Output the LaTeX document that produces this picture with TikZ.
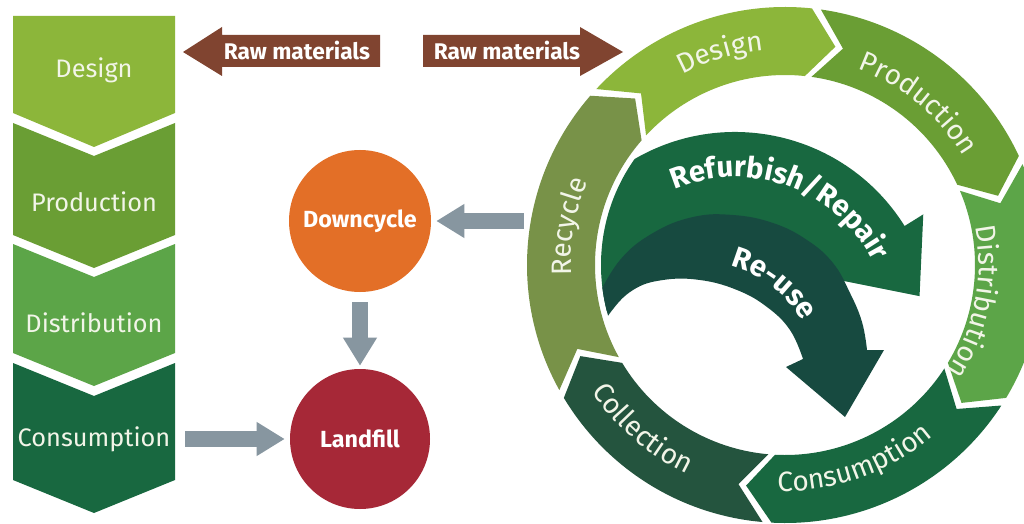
\documentclass[tikz,border=0pt]{standalone}
\usepackage{fontspec}
\setmainfont{Fira Sans}
\usetikzlibrary{arrows.meta,decorations.text}

\definecolor{cDesign}{RGB}{140,182,58}
\definecolor{cProd}{RGB}{106,158,52}
\definecolor{cDist}{RGB}{92,165,72}
\definecolor{cCons}{RGB}{24,104,64}
\definecolor{cColl}{RGB}{36,84,62}
\definecolor{cRecy}{RGB}{120,146,72}
\definecolor{cRefurb}{RGB}{24,104,64}
\definecolor{cReuse}{RGB}{23,74,64}
\definecolor{cRaw}{RGB}{128,68,48}
\definecolor{cGray}{RGB}{135,150,160}
\definecolor{cOrange}{RGB}{227,111,39}
\definecolor{cRed}{RGB}{166,40,55}
\definecolor{cText}{RGB}{242,245,232}

\newcommand\ringfont{\fontsize{21}{23}\selectfont}
\newcommand\arcbold{\bfseries\fontsize{22}{24}\selectfont}
\def\rRo{258}\def\rRi{190}\def\rRm{224}\def\rdl{7}\def\rgp{2}
\newcommand\ringseg[3]{%
  \pgfmathsetmacro\rsA{#1+\rdl-\rgp}%
  \pgfmathsetmacro\rsB{#2+\rdl}%
  \pgfmathsetmacro\rsN{#1-\rgp}%
  \fill[#3] (\rsA:\rRo) arc[start angle=\rsA, end angle=\rsB, radius=\rRo]
    -- (#2:\rRm) -- (\rsB:\rRi) arc[start angle=\rsB, end angle=\rsA, radius=\rRi]
    -- (\rsN:\rRm) -- cycle;}

\begin{document}
\begin{tikzpicture}[x=0.75pt,y=0.75pt,
  lefttext/.style={text=cText, font=\fontsize{19}{21}\selectfont, minimum width=121.5pt, inner sep=0pt},
  rawtext/.style={text=white, font=\bfseries\fontsize{17}{19}\selectfont, inner sep=0pt},
  circ/.style={circle, inner sep=0pt, text=white, font=\bfseries\fontsize{17.5}{19}\selectfont},
  garrow/.style={draw=cGray, line width=12pt, -{Triangle[length=21pt,width=24pt]}},
  ringlab/.style={decorate, decoration={text along path, text align=center, text={|\color{cText}\ringfont|#1}}},
  arclab/.style={decorate, decoration={text along path, text align=center, text={|\color{white}\arcbold|#1}}}
]
\fill[white] (0,0) rectangle (1024,-524);
\useasboundingbox (0,0) rectangle (1024,-524);

% ---------- left column ----------
\fill[cDesign] (13,-16) -- (175,-16) -- (175,-113) -- (94,-147) -- (13,-113) -- cycle;
\fill[cProd] (13,-123) -- (94,-156) -- (175,-123) -- (175,-235) -- (94,-268) -- (13,-235) -- cycle;
\fill[cDist] (13,-244) -- (94,-277) -- (175,-244) -- (175,-353) -- (94,-386) -- (13,-353) -- cycle;
\fill[cCons] (13,-363) -- (94,-396) -- (175,-363) -- (175,-480) -- (94,-513) -- (13,-480) -- cycle;
\node[lefttext] (lDesign) at (94,-70) {Design};
\node[lefttext] (lProd) at (94,-202) {Production};
\node[lefttext] (lDist) at (94,-323) {Distribution};
\node[lefttext] (lCons) at (94,-439) {Consumption};

% ---------- raw materials ----------
\fill[cRaw] (183,-52) -- (222,-27) -- (222,-35) -- (380,-35) -- (380,-67) -- (222,-67) -- (222,-76) -- cycle;
\node[rawtext] (rawL) at (297,-51) {Raw materials};
\fill[cRaw] (423,-35) -- (580,-35) -- (580,-27) -- (623,-52) -- (580,-76) -- (580,-67) -- (423,-67) -- cycle;
\node[rawtext] (rawR) at (507,-51) {Raw materials};

% ---------- circles ----------
\node[circ, fill=cOrange, minimum size=106.5pt] (down) at (360,-221) {Downcycle};
\node[circ, fill=cRed, minimum size=105pt] (land) at (360,-439) {Landfill};

% ---------- ring ----------
\begin{scope}[shift={(785,-265)}]
  \ringseg{132}{77}{cDesign}
  \ringseg{77}{18}{cProd}
  \ringseg{18}{-38}{cDist}
  \ringseg{-38}{-100}{cCons}
  \ringseg{-100}{-156}{cColl}
  \ringseg{204}{132}{cRecy}
  \path[ringlab=Design] (147:216) arc[start angle=147, end angle=67, radius=216];
  \path[ringlab=Production] (96:209) arc[start angle=96, end angle=5, radius=209];
  \path[ringlab=Distribution] (35:194) arc[start angle=35, end angle=-57, radius=194];
  \path[ringlab=Consumption] (-120:226) arc[start angle=-120, end angle=-21, radius=226];
  \path[ringlab=Collection] (184:231) arc[start angle=184, end angle=274, radius=231];
  \path[ringlab=Recycle] (215:214) arc[start angle=215, end angle=125, radius=214];
\end{scope}

% ---------- inner arrows ----------
\begin{scope}
  \clip (785,-265) circle[radius=184];
  \begin{scope}[shift={(735,-332)}]
    \fill[cRefurb] (-135,14) -- (150:110) arc[start angle=150, end angle=32, radius=110]
      -- (32:104) -- (11:188) -- (32:222) -- (32:200)
      arc[start angle=32, end angle=190, radius=200] -- cycle;
  \end{scope}
  \fill[cReuse] plot[smooth, tension=0.7] coordinates {(596,-300) (620,-260) (653,-233) (693,-217) (733,-215) (773,-223) (807,-240) (833,-263) (850,-293) (862,-322) (867,-350)}
    -- (884,-350) -- (845,-417) -- (786,-367) -- (803,-359)
    -- plot[smooth, tension=0.7] coordinates {(803,-359) (790,-330) (767,-307) (737,-290) (700,-280) (663,-280) (633,-290) (610,-313) (596,-338)} -- cycle;
\end{scope}
\begin{scope}[shift={(735,-332)}]
  \path[arclab=Refurbish/Repair] (140:155) arc[start angle=140, end angle=0, radius=155];
\end{scope}
\begin{scope}[shift={(700,-380)}]
  \path[arclab=Re-use] (100:118) arc[start angle=100, end angle=5, radius=118];
\end{scope}

% ---------- connectors ----------
\coordinate (recout) at (524,-221);
\draw[garrow, shorten >=3.75pt] (recout) -- (down);
\draw[garrow, shorten <=7.5pt, shorten >=2.25pt] (down) -- (land);
\draw[garrow, shorten <=7.5pt, shorten >=3.75pt] (lCons) -- (land);
\end{tikzpicture}
\end{document}
